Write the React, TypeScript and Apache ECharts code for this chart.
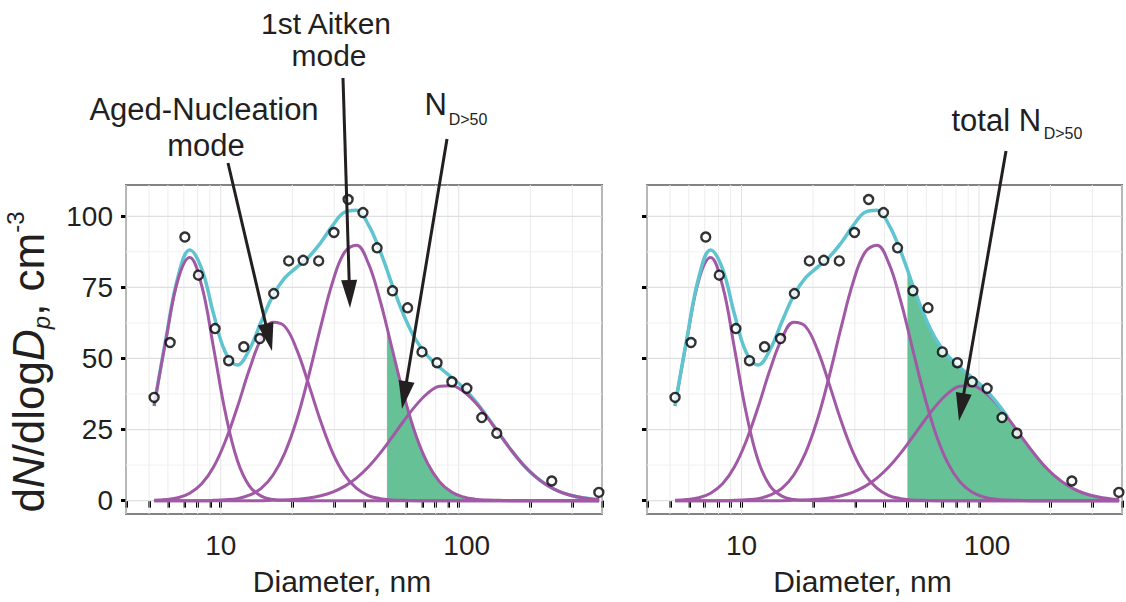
import React, { useEffect, useRef } from "react";
import * as echarts from "echarts";

// ---------- data ----------
// diameters (nm) at which the fitted curves were read
const curveDiameters = [
  5.25, 5.89, 6.61, 7.41, 8.32, 9.33, 10.47, 11.75, 13.18, 14.79, 16.6, 18.62, 20.89, 23.44,
  26.3, 29.51, 33.11, 37.15, 41.69, 46.77, 50, 52.48, 58.88, 66.07, 74.13, 83.18, 93.33,
  104.7, 117.5, 131.8, 147.9, 166, 186.2, 208.9, 234.4, 263, 295.1, 331.1, 371.5, 389,
];
const nucleationMode = [
  33.3, 56.7, 77.6, 85.5, 75.6, 53.8, 30.8, 14.1, 5.2, 1.6, 0.4, 0.1, 0, 0, 0, 0, 0, 0, 0, 0,
  0, 0, 0, 0, 0, 0, 0, 0, 0, 0, 0, 0, 0, 0, 0, 0, 0, 0, 0, 0,
];
const agedNucleationMode = [
  0.1, 0.4, 1.0, 2.6, 5.9, 11.8, 21.0, 32.9, 46.0, 57.0, 62.7, 61.2, 53.0, 40.8, 27.9, 16.9,
  9.1, 4.4, 1.8, 0.7, 0.4, 0.2, 0.1, 0, 0, 0, 0, 0, 0, 0, 0, 0, 0, 0, 0, 0, 0, 0, 0, 0,
];
const aitkenMode = [
  0, 0, 0, 0, 0, 0.1, 0.3, 0.7, 1.9, 4.3, 9.0, 16.9, 28.6, 44.0, 61.1, 76.8, 87.3, 89.8, 83.5,
  70.3, 60.8, 53.5, 36.9, 23.0, 13.0, 6.6, 3.0, 1.3, 0.5, 0.2, 0.1, 0, 0, 0, 0, 0, 0, 0, 0, 0,
];
const accumulationMode = [
  0, 0, 0, 0, 0, 0, 0, 0, 0, 0, 0.1, 0.2, 0.5, 0.9, 1.7, 3.0, 5.0, 7.9, 11.8, 16.7, 19.9, 22.3,
  28.1, 33.5, 37.8, 40.2, 40.4, 38.4, 34.5, 29.3, 23.5, 17.8, 12.7, 8.6, 5.5, 3.3, 1.9, 1.0,
  0.5, 0.4,
];
const fitTotal = [
  33.4, 57.1, 78.6, 88.1, 81.5, 65.7, 52.1, 47.7, 53.1, 62.9, 72.2, 78.4, 82.1, 85.7, 90.7,
  96.7, 101.4, 102.1, 97.1, 87.7, 81.1, 76.0, 65.1, 56.5, 50.8, 46.8, 43.4, 39.7, 35.0, 29.5,
  23.6, 17.8, 12.7, 8.6, 5.5, 3.3, 1.9, 1.0, 0.5, 0.4,
];
// measured size distribution (open circles)
const pointDiameters = [
  5.25, 6.13, 7.07, 8.06, 9.47, 10.8, 12.5, 14.6, 16.7, 19.3, 22.2, 25.8, 29.9, 34.3, 39.6,
  45.4, 52.7, 61.0, 70.1, 81.1, 93.6, 108.2, 125, 144.5, 246, 388,
];
const pointValues = [
  36.3, 55.6, 92.7, 79.3, 60.5, 49.2, 54.1, 57.0, 72.8, 84.3, 84.5, 84.3, 94.3, 105.9, 101.3,
  88.9, 73.8, 67.8, 52.3, 48.5, 41.8, 39.5, 29.2, 23.7, 6.9, 2.9,
];
const fillStartDiameter = 50;
const cyanEndDiameter = 131.8;

// axes
const xMin = 4;
const xMax = 400;
const yMin = -4.7;
const yMax = 111;
const xLabelValues = [10, 100];
const xTickValues = [4, 5, 6, 7, 8, 9, 10, 20, 30, 40, 50, 60, 70, 80, 90, 100, 200, 300, 400];
const yTickValues = [0, 25, 50, 75, 100];
const yMinorGrid = [12.5, 37.5, 62.5, 87.5];

// ---------- styles ----------
const FONT = "'Liberation Sans', Arial, Helvetica, sans-serif";
const INK = "#231f20";
const PURPLE = "#a159a6";
const CYAN = "#5fc4cf";
const GREEN = "#66c296";

const pairs = (xs: number[], ys: number[]) => xs.map((x, i) => [x, ys[i]]);

function arrow(x1: number, y1: number, x2: number, y2: number) {
  const dx = x2 - x1;
  const dy = y2 - y1;
  const len = Math.sqrt(dx * dx + dy * dy);
  const ux = dx / len;
  const uy = dy / len;
  const headLen = 28;
  const half = 8;
  const bx = x2 - ux * headLen;
  const by = y2 - uy * headLen;
  return [
    {
      type: "line",
      z: 100,
      shape: { x1, y1, x2: bx + ux * 4, y2: by + uy * 4 },
      style: { stroke: INK, lineWidth: 3 },
    },
    {
      type: "polygon",
      z: 100,
      shape: {
        points: [
          [x2, y2],
          [bx - uy * half, by + ux * half],
          [bx + uy * half, by - ux * half],
        ],
      },
      style: { fill: INK },
    },
  ];
}

function label(text: string, x: number, baseline: number, size: number, align: string) {
  return {
    type: "text",
    z: 100,
    x,
    y: baseline - 0.3465 * size,
    style: {
      text,
      fontSize: size,
      fontFamily: FONT,
      fill: INK,
      align,
      verticalAlign: "middle",
    },
  };
}

export default function App() {
  const ref = useRef<HTMLDivElement>(null);

  useEffect(() => {
    if (!ref.current) return;
    const chart = echarts.init(ref.current, null, { renderer: "svg" });

    const grids = [
      { left: 126, top: 185, width: 476, height: 329 },
      { left: 647, top: 185, width: 475, height: 329 },
    ];

    const fillIdx = curveDiameters.indexOf(fillStartDiameter);
    const cyanEnd = curveDiameters.indexOf(cyanEndDiameter);

    const xAxes: any[] = [];
    const yAxes: any[] = [];
    const series: any[] = [];

    grids.forEach((_, gi) => {
      xAxes.push({
        type: "log",
        logBase: 10,
        gridIndex: gi,
        min: xMin,
        max: xMax,
        axisLine: { show: false },
        splitLine: { show: false },
        axisTick: {
          show: true,
          customValues: xTickValues,
          length: 7,
          lineStyle: { color: "#000000", width: 3 },
        },
        axisLabel: {
          customValues: xLabelValues,
          fontSize: 28,
          fontFamily: FONT,
          color: INK,
          margin: 17,
          formatter: (v: number) => {
            const r = Math.round(v);
            return r === 100 ? "{r|100}" : String(r);
          },
          rich: {
            r: { fontSize: 28, fontFamily: FONT, color: INK, padding: [0, 0, 0, 16] },
          },
        },
        name: "Diameter, nm",
        nameLocation: "middle",
        nameGap: 52,
        nameTextStyle: {
          fontSize: 30,
          fontFamily: FONT,
          color: INK,
          padding: [0, 44, 0, 0],
        },
      });
      yAxes.push({
        type: "value",
        gridIndex: gi,
        min: yMin,
        max: yMax,
        axisLine: { show: false },
        splitLine: { show: false },
        axisTick: {
          show: true,
          customValues: yTickValues,
          length: 5,
          lineStyle: { color: "#000000", width: 3 },
        },
        axisLabel: {
          show: gi === 0,
          customValues: yTickValues,
          fontSize: 28,
          fontFamily: FONT,
          color: INK,
          margin: 13,
        },
      });

      // grid lines
      series.push({
        type: "custom",
        xAxisIndex: gi,
        yAxisIndex: gi,
        z: 1,
        silent: true,
        data: xTickValues.map((v) => [v, 0]),
        renderItem: (params: any, api: any) => {
          const v = api.value(0);
          const p1 = api.coord([v, yMin]);
          const p2 = api.coord([v, yMax]);
          return {
            type: "line",
            shape: { x1: p1[0], y1: p1[1], x2: p2[0], y2: p2[1] },
            style: { stroke: v === 10 || v === 100 ? "#e2e2e2" : "#ececec", lineWidth: 1 },
          };
        },
      });
      series.push({
        type: "custom",
        xAxisIndex: gi,
        yAxisIndex: gi,
        z: 1,
        silent: true,
        data: [...yTickValues, ...yMinorGrid].map((v) => [10, v]),
        renderItem: (params: any, api: any) => {
          const v = api.value(1);
          const p1 = api.coord([xMin, v]);
          const p2 = api.coord([xMax, v]);
          const major = yTickValues.indexOf(v) >= 0;
          return {
            type: "line",
            shape: { x1: p1[0], y1: p1[1], x2: p2[0], y2: p2[1] },
            style: { stroke: major ? "#e0e0e0" : "#f1f1f1", lineWidth: major ? 1.3 : 1 },
          };
        },
      });

      // green N_D>50 area
      const fillSource = gi === 0 ? aitkenMode : fitTotal;
      series.push({
        type: "line",
        xAxisIndex: gi,
        yAxisIndex: gi,
        z: 2,
        smooth: 0.4,
        showSymbol: false,
        silent: true,
        lineStyle: { width: 0, opacity: 0 },
        areaStyle: { color: GREEN, opacity: 1 },
        data: pairs(curveDiameters.slice(fillIdx), fillSource.slice(fillIdx)),
      });

      // modes
      [nucleationMode, agedNucleationMode, aitkenMode, accumulationMode].forEach((m) => {
        series.push({
          type: "line",
          xAxisIndex: gi,
          yAxisIndex: gi,
          z: gi === 0 ? 4 : 3,
          smooth: 0.4,
          showSymbol: false,
          silent: true,
          lineStyle: { color: PURPLE, width: 3 },
          data: pairs(curveDiameters, m),
        });
      });

      // total fit
      const cyanX = gi === 0 ? curveDiameters : curveDiameters.slice(0, cyanEnd + 1);
      series.push({
        type: "line",
        xAxisIndex: gi,
        yAxisIndex: gi,
        z: gi === 0 ? 3 : 4,
        smooth: 0.4,
        showSymbol: false,
        silent: true,
        lineStyle: { color: CYAN, width: 3.5 },
        data: pairs(cyanX, fitTotal),
      });

      // measured points
      series.push({
        type: "scatter",
        xAxisIndex: gi,
        yAxisIndex: gi,
        z: 5,
        silent: true,
        symbol: "circle",
        symbolSize: 9,
        itemStyle: { color: "#ffffff", borderColor: "#000000", borderWidth: 2.4 },
        data: pairs(pointDiameters, pointValues),
      });
    });

    const graphic: any[] = [
      {
        type: "text",
        x: 28,
        y: 362,
        rotation: Math.PI / 2,
        z: 100,
        style: {
          text: "{a|d}{i|N}{a|/dlog}{i|D}{sub|p}{a|, cm}{sup|-3}",
          align: "center",
          verticalAlign: "middle",
          fill: INK,
          fontFamily: FONT,
          fontSize: 44,
          rich: {
            a: { fontSize: 44, fontFamily: FONT, fill: INK, lineHeight: 50 },
            i: { fontSize: 44, fontFamily: FONT, fill: INK, lineHeight: 50, fontStyle: "italic" },
            sub: {
              fontSize: 24,
              fontFamily: FONT,
              fill: INK,
              lineHeight: 22,
              fontStyle: "italic",
              verticalAlign: "bottom",
            },
            sup: { fontSize: 24, fontFamily: FONT, fill: INK, lineHeight: 30, verticalAlign: "top" },
          },
        },
      },
      label("Aged-Nucleation", 204, 120, 31, "center"),
      label("mode", 206, 156, 31, "center"),
      label("1st Aitken", 326, 34, 30, "center"),
      label("mode", 329, 66, 30, "center"),
      label("N", 424.6, 115, 31, "left"),
      label("D>50", 448.7, 125, 16, "left"),
      label("total N", 951.5, 131, 31, "left"),
      label("D>50", 1043.7, 139, 16, "left"),
      ...arrow(228, 163, 272, 351),
      ...arrow(343, 78, 350, 308),
      ...arrow(447, 139, 402, 409),
      ...arrow(1006, 151, 959, 421),
    ];

    chart.setOption({
      animation: false,
      backgroundColor: "#ffffff",
      grid: grids.map((g) => ({
        ...g,
        show: true,
        borderColor: "#838383",
        borderWidth: 2,
        backgroundColor: "#ffffff",
      })),
      xAxis: xAxes,
      yAxis: yAxes,
      series,
      graphic,
    });

    return () => chart.dispose();
  }, []);

  return (
    <div
      ref={ref}
      style={{ position: "absolute", left: 0, top: 0, width: 1126, height: 602 }}
    />
  );
}
